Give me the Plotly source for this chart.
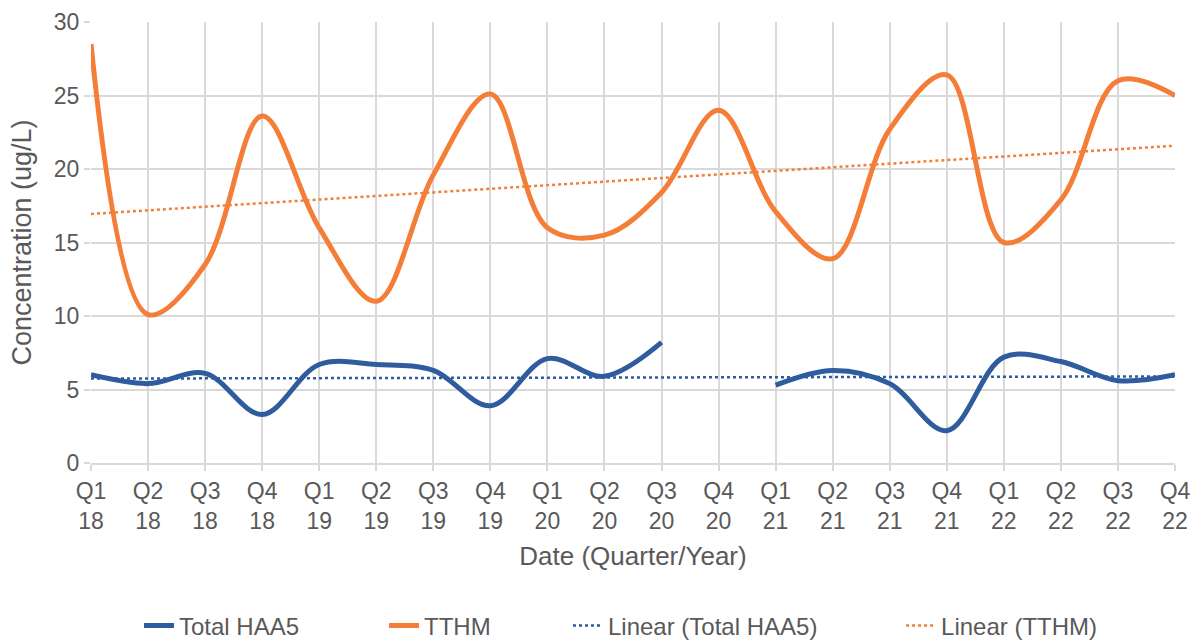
import numpy as np
import plotly.graph_objects as go

quarters = ["Q1<br>18", "Q2<br>18", "Q3<br>18", "Q4<br>18",
            "Q1<br>19", "Q2<br>19", "Q3<br>19", "Q4<br>19",
            "Q1<br>20", "Q2<br>20", "Q3<br>20", "Q4<br>20",
            "Q1<br>21", "Q2<br>21", "Q3<br>21", "Q4<br>21",
            "Q1<br>22", "Q2<br>22", "Q3<br>22", "Q4<br>22"]
haa5 = [6.0, 5.4, 6.1, 3.3, 6.7, 6.7, 6.3, 3.9, 7.1, 5.9, 8.2, None,
        5.3, 6.3, 5.4, 2.2, 7.2, 6.9, 5.6, 6.0]
tthm = [28.5, 10.1, 13.5, 23.6, 16.0, 11.0, 19.6, 25.1, 16.0, 15.5, 18.4, 24.0,
        17.1, 13.9, 22.7, 26.4, 15.0, 17.9, 26.0, 25.0]

BLUE = "#2E5C9E"
ORANGE = "#F47E38"
FONT = "Liberation Sans, Arial, sans-serif"
GREY = "#595959"
GRID = "#D9D9D9"

xi = np.arange(len(quarters))

def trend(vals):
    x = np.array([i for i, v in enumerate(vals) if v is not None], dtype=float)
    y = np.array([v for v in vals if v is not None], dtype=float)
    m, b = np.polyfit(x + 1, y, 1)
    return m * (xi + 1) + b

fig = go.Figure()
fig.add_trace(go.Scatter(x=xi, y=haa5, name="Total HAA5", mode="lines",
                         line=dict(color=BLUE, width=5, shape="spline", smoothing=1.0),
                         connectgaps=False, legend="legend"))
fig.add_trace(go.Scatter(x=xi, y=tthm, name="TTHM", mode="lines",
                         line=dict(color=ORANGE, width=5, shape="spline", smoothing=1.0),
                         legend="legend2"))
fig.add_trace(go.Scatter(x=xi, y=trend(haa5), name="Linear (Total HAA5)", mode="lines",
                         line=dict(color=BLUE, width=2.5, dash="dot"), legend="legend3"))
fig.add_trace(go.Scatter(x=xi, y=trend(tthm), name="Linear (TTHM)", mode="lines",
                         line=dict(color=ORANGE, width=2.5, dash="dot"), legend="legend4"))

def leg(xpos):
    return dict(orientation="h", x=xpos, xanchor="left", xref="container",
                y=0.025, yanchor="middle", yref="container",
                font=dict(size=24, color=GREY), itemwidth=30,
                bgcolor="rgba(0,0,0,0)")

fig.update_layout(
    width=1196, height=642,
    margin=dict(l=91, r=21, t=22, b=179, autoexpand=False),
    paper_bgcolor="white", plot_bgcolor="white",
    font=dict(family=FONT, size=23, color=GREY),
    showlegend=True,
    legend=leg(0.1162),
    legend2=leg(0.3211),
    legend3=leg(0.4749),
    legend4=leg(0.7534),
    xaxis=dict(
        tickmode="array", tickvals=list(xi), ticktext=quarters,
        range=[0, len(quarters) - 1], automargin=False,
        showgrid=True, gridcolor=GRID, gridwidth=2,
        showline=True, linecolor=GRID, linewidth=2,
        ticks="outside", tickcolor=GRID, ticklen=6, tickwidth=2,
        tickfont=dict(size=23, color=GREY),
        title=dict(text="Date (Quarter/Year)", font=dict(size=26, color=GREY), standoff=14),
        zeroline=False,
    ),
    yaxis=dict(
        range=[0, 30], tickvals=[0, 5, 10, 15, 20, 25, 30], automargin=False,
        showgrid=True, gridcolor=GRID, gridwidth=2,
        ticks="outside", tickcolor=GRID, ticklen=6, tickwidth=2,
        tickfont=dict(size=23, color=GREY),
        title=dict(text="Concentration (ug/L)", font=dict(size=27, color=GREY), standoff=14),
        zeroline=False, showline=False,
    ),
)

fig.write_html("out.html", config={"displayModeBar": False},
               post_script="document.body.style.margin='0';")
